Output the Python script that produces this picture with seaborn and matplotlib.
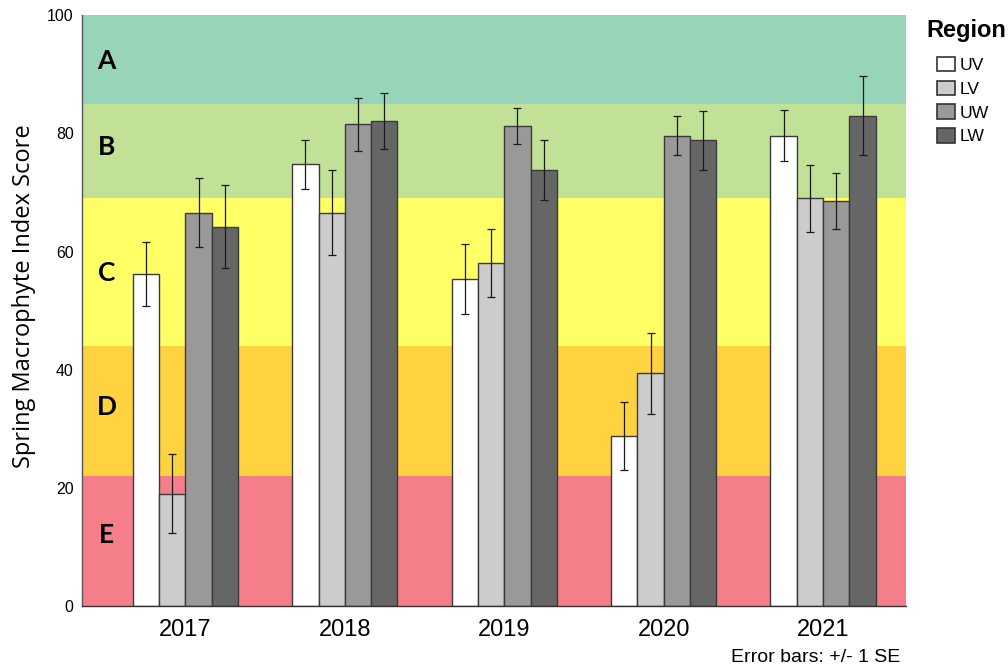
import numpy as np
import pandas as pd
import matplotlib
matplotlib.use("Agg")
import matplotlib.pyplot as plt
import seaborn as sns

years = ["2017", "2018", "2019", "2020", "2021"]
regions = ["UV", "LV", "UW", "LW"]

# Mean spring macrophyte index score per region and year
uv_mean = [56.2, 74.8, 55.4, 28.9, 79.6]
lv_mean = [19.1, 66.6, 58.0, 39.4, 69.0]
uw_mean = [66.6, 81.5, 81.3, 79.6, 68.5]
lw_mean = [64.2, 82.1, 73.8, 78.8, 83.0]

# Standard errors
uv_se = [5.45, 4.15, 5.9, 5.75, 4.3]
lv_se = [6.6, 7.15, 5.75, 6.9, 5.6]
uw_se = [5.85, 4.45, 3.05, 3.3, 4.75]
lw_se = [7.05, 4.75, 5.15, 5.0, 6.7]

# Condition class bands (lower, upper, label)
band_labels = ["A", "B", "C", "D", "E"]
band_lower = [85, 69, 44, 22, 0]
band_upper = [100, 85, 69, 44, 22]
band_label_y = [92.3, 77.7, 56.4, 33.7, 12.1]
band_colors = ["#98d4b8", "#c1e196", "#ffff66", "#ffd240", "#f47e8a"]

region_colors = ["#ffffff", "#cccccc", "#999999", "#666666"]

means = [uv_mean, lv_mean, uw_mean, lw_mean]
ses = [uv_se, lv_se, uw_se, lw_se]
rows = []
for r, m, s in zip(regions, means, ses):
    for y, mv, sv in zip(years, m, s):
        rows.append({"Year": y, "Region": r, "Score": mv, "SE": sv})
df = pd.DataFrame(rows)

sns.set_theme(style="white")
plt.rcParams["font.family"] = ["Liberation Sans", "DejaVu Sans"]
plt.rcParams.update({"text.color": "black", "axes.labelcolor": "black",
                     "xtick.color": "black", "ytick.color": "black"})

fig = plt.figure(figsize=(10.08, 6.65), dpi=100)
ax = fig.add_axes([0.0813, 0.088, 0.8175, 0.8894])

for lo, hi, c in zip(band_lower, band_upper, band_colors):
    ax.axhspan(lo, hi, color=c, zorder=0, linewidth=0)

sns.barplot(data=df, x="Year", y="Score", hue="Region", order=years,
            hue_order=regions, palette=region_colors, errorbar=None,
            width=0.66, edgecolor="#3a3a3a", linewidth=1.0, saturation=1,
            ax=ax, zorder=2)

for cont, r in zip(ax.containers, regions):
    sub = df[df["Region"] == r].set_index("Year").loc[years]
    xs = [p.get_x() + p.get_width() / 2 for p in cont.patches]
    hs = [p.get_height() for p in cont.patches]
    ax.errorbar(xs, hs, yerr=sub["SE"].values, fmt="none", ecolor="#1a1a1a",
                elinewidth=0.9, capsize=3, capthick=0.9, zorder=3)

for lab, yv in zip(band_labels, band_label_y):
    ax.text(-0.495, yv, lab, ha="center", va="center", fontsize=19,
            fontweight="bold", family=["Lato", "DejaVu Sans"], zorder=4)

ax.set_ylim(0, 100)
ax.set_xlim(-0.649, 4.52)
ax.set_yticks([0, 20, 40, 60, 80, 100])
ax.tick_params(axis="y", labelsize=11.4, length=0, pad=6)
ax.tick_params(axis="x", labelsize=17, length=0, pad=9)
ax.set_xlabel("")
ax.set_ylabel("Spring Macrophyte Index Score", fontsize=17,
              family=["Open Sans", "DejaVu Sans"], labelpad=4)
ax.yaxis.set_label_coords(-0.056, 0.525)

for side in ["top", "right"]:
    ax.spines[side].set_visible(False)
ax.spines["left"].set_color("#555555")
ax.spines["bottom"].set_color("#333333")
ax.spines["left"].set_linewidth(1.0)
ax.spines["bottom"].set_linewidth(1.0)

sns.move_legend(ax, loc="upper left", bbox_to_anchor=(0.9296, 0.9145),
                bbox_transform=fig.transFigure,
                frameon=False, title=None, fontsize=12.6,
                handlelength=1.03, handleheight=0.91, handletextpad=0.25,
                labelspacing=0.42, borderaxespad=0, borderpad=0)
leg = ax.get_legend()
for h in leg.legend_handles:
    h.set_edgecolor("#333333")
    h.set_linewidth(1.2)

fig.text(0.919, 0.9448, "Region", ha="left", va="baseline", fontsize=17,
         fontweight="bold")

fig.text(0.893, 0.0045, "Error bars: +/- 1 SE", ha="right", va="baseline",
         fontsize=14)

fig.savefig("out.png", dpi=100)
